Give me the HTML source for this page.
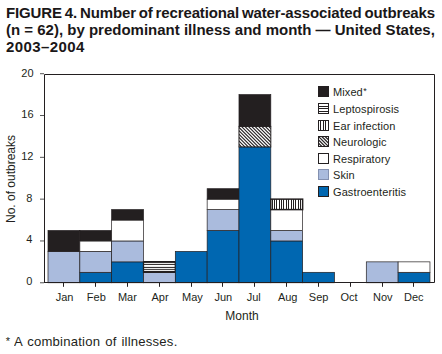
<!DOCTYPE html>
<html><head><meta charset="utf-8"><style>
html,body{margin:0;padding:0;background:#fff;width:442px;height:354px;overflow:hidden;position:relative}
body{font-family:"Liberation Sans",sans-serif;color:#231f20}
.t{position:absolute;left:6px;font-weight:bold;font-size:15px;line-height:15px;white-space:nowrap;color:#1a1718}
svg{position:absolute;left:0;top:0}
.yl{position:absolute;font-size:11px;line-height:14px;white-space:nowrap}
.xl{position:absolute;top:290px;width:40px;text-align:center;font-size:11px;line-height:14px}
.lg{position:absolute;left:333px;font-size:11px;line-height:14px;white-space:nowrap;letter-spacing:0.1px}
.yt{position:absolute;left:11px;top:179px;font-size:12px;line-height:14px;white-space:nowrap;transform:translate(-50%,-50%) rotate(-90deg)}
.mo{position:absolute;left:212px;top:308.8px;width:60px;text-align:center;font-size:12px;line-height:14px}
.fn{position:absolute;left:13.8px;top:335.1px;font-size:12.5px;line-height:14px;white-space:nowrap;letter-spacing:0.2px;word-spacing:1px;transform:scale(1.05,0.95);transform-origin:0 11.3px}
.fa{position:absolute;left:5.8px;top:335.6px;font-size:11px;line-height:11px}
</style></head><body>
<div class="t" style="top:5.1px;letter-spacing:-0.135px;word-spacing:-1.09px">FIGURE 4. Number of recreational water-associated outbreaks</div><div class="t" style="top:22.1px">(n = 62), by predominant illness and month — United States,</div><div class="t" style="top:38.8px;letter-spacing:0.4px">2003–2004</div>
<svg width="442" height="354" viewBox="0 0 442 354">
<defs></defs>
<line x1="40" y1="282.77" x2="44" y2="282.77" stroke="#555" stroke-width="1"/><line x1="40" y1="240.96" x2="44" y2="240.96" stroke="#555" stroke-width="1"/><line x1="40" y1="199.15" x2="44" y2="199.15" stroke="#555" stroke-width="1"/><line x1="40" y1="157.33" x2="44" y2="157.33" stroke="#555" stroke-width="1"/><line x1="40" y1="115.52" x2="44" y2="115.52" stroke="#555" stroke-width="1"/><line x1="40" y1="73.71" x2="44" y2="73.71" stroke="#555" stroke-width="1"/><rect x="63" y="282.5" width="1" height="4.3" fill="#231f20"/><rect x="95" y="282.5" width="1" height="4.3" fill="#231f20"/><rect x="127" y="282.5" width="1" height="4.3" fill="#231f20"/><rect x="159" y="282.5" width="1" height="4.3" fill="#231f20"/><rect x="191" y="282.5" width="1" height="4.3" fill="#231f20"/><rect x="222" y="282.5" width="1" height="4.3" fill="#231f20"/><rect x="254" y="282.5" width="1" height="4.3" fill="#231f20"/><rect x="286" y="282.5" width="1" height="4.3" fill="#231f20"/><rect x="318" y="282.5" width="1" height="4.3" fill="#231f20"/><rect x="350" y="282.5" width="1" height="4.3" fill="#231f20"/><rect x="382" y="282.5" width="1" height="4.3" fill="#231f20"/><rect x="413" y="282.5" width="1" height="4.3" fill="#231f20"/>
<rect x="48.00" y="251.41" width="31.83" height="31.36" fill="#aabbdd"/><rect x="48.00" y="251.41" width="31.83" height="31.36" fill="none" stroke="#231f20" stroke-width="0.7"/><rect x="48.00" y="230.50" width="31.83" height="20.91" fill="#231f20"/><rect x="48.00" y="230.50" width="31.83" height="20.91" fill="none" stroke="#231f20" stroke-width="0.7"/><rect x="79.83" y="272.32" width="31.83" height="10.45" fill="#0067b1"/><rect x="79.83" y="272.32" width="31.83" height="10.45" fill="none" stroke="#231f20" stroke-width="0.7"/><rect x="79.83" y="251.41" width="31.83" height="20.91" fill="#aabbdd"/><rect x="79.83" y="251.41" width="31.83" height="20.91" fill="none" stroke="#231f20" stroke-width="0.7"/><rect x="79.83" y="240.96" width="31.83" height="10.45" fill="#ffffff"/><rect x="79.83" y="240.96" width="31.83" height="10.45" fill="none" stroke="#231f20" stroke-width="0.7"/><rect x="79.83" y="230.50" width="31.83" height="10.45" fill="#231f20"/><rect x="79.83" y="230.50" width="31.83" height="10.45" fill="none" stroke="#231f20" stroke-width="0.7"/><rect x="111.66" y="261.86" width="31.83" height="20.91" fill="#0067b1"/><rect x="111.66" y="261.86" width="31.83" height="20.91" fill="none" stroke="#231f20" stroke-width="0.7"/><rect x="111.66" y="240.96" width="31.83" height="20.91" fill="#aabbdd"/><rect x="111.66" y="240.96" width="31.83" height="20.91" fill="none" stroke="#231f20" stroke-width="0.7"/><rect x="111.66" y="220.05" width="31.83" height="20.91" fill="#ffffff"/><rect x="111.66" y="220.05" width="31.83" height="20.91" fill="none" stroke="#231f20" stroke-width="0.7"/><rect x="111.66" y="209.60" width="31.83" height="10.45" fill="#231f20"/><rect x="111.66" y="209.60" width="31.83" height="10.45" fill="none" stroke="#231f20" stroke-width="0.7"/><rect x="143.49" y="272.32" width="31.83" height="10.45" fill="#aabbdd"/><rect x="143.49" y="272.32" width="31.83" height="10.45" fill="none" stroke="#231f20" stroke-width="0.7"/><rect x="143.49" y="261.86" width="31.83" height="10.45" fill="#ffffff"/><rect x="143.49" y="261" width="31.83" height="1.80" fill="#231f20"/><rect x="143.49" y="263.9" width="31.83" height="1.00" fill="#231f20"/><rect x="143.49" y="266.9" width="31.83" height="1.00" fill="#231f20"/><rect x="143.49" y="268.9" width="31.83" height="0.90" fill="#231f20"/><rect x="143.49" y="270.9" width="31.83" height="1.90" fill="#231f20"/><rect x="143.49" y="261.86" width="31.83" height="10.45" fill="none" stroke="#231f20" stroke-width="1.3"/><rect x="175.32" y="251.41" width="31.83" height="31.36" fill="#0067b1"/><rect x="175.32" y="251.41" width="31.83" height="31.36" fill="none" stroke="#231f20" stroke-width="0.7"/><rect x="207.15" y="230.50" width="31.83" height="52.26" fill="#0067b1"/><rect x="207.15" y="230.50" width="31.83" height="52.26" fill="none" stroke="#231f20" stroke-width="0.7"/><rect x="207.15" y="209.60" width="31.83" height="20.91" fill="#aabbdd"/><rect x="207.15" y="209.60" width="31.83" height="20.91" fill="none" stroke="#231f20" stroke-width="0.7"/><rect x="207.15" y="199.15" width="31.83" height="10.45" fill="#ffffff"/><rect x="207.15" y="199.15" width="31.83" height="10.45" fill="none" stroke="#231f20" stroke-width="0.7"/><rect x="207.15" y="188.69" width="31.83" height="10.45" fill="#231f20"/><rect x="207.15" y="188.69" width="31.83" height="10.45" fill="none" stroke="#231f20" stroke-width="0.7"/><rect x="238.98" y="146.88" width="31.83" height="135.89" fill="#0067b1"/><rect x="238.98" y="146.88" width="31.83" height="135.89" fill="none" stroke="#231f20" stroke-width="0.7"/><rect x="238.98" y="126.38" width="31.83" height="20.51" fill="#ffffff"/><clipPath id="cn"><rect x="238.98" y="126.38" width="31.83" height="20.51"/></clipPath><g clip-path="url(#cn)"><line x1="197.18" y1="126.38" x2="217.69" y2="146.88" stroke="#231f20" stroke-width="1.1"/><line x1="200.58" y1="126.38" x2="221.09" y2="146.88" stroke="#231f20" stroke-width="1.1"/><line x1="203.98" y1="126.38" x2="224.49" y2="146.88" stroke="#231f20" stroke-width="1.1"/><line x1="207.38" y1="126.38" x2="227.89" y2="146.88" stroke="#231f20" stroke-width="1.1"/><line x1="210.78" y1="126.38" x2="231.29" y2="146.88" stroke="#231f20" stroke-width="1.1"/><line x1="214.18" y1="126.38" x2="234.69" y2="146.88" stroke="#231f20" stroke-width="1.1"/><line x1="217.58" y1="126.38" x2="238.09" y2="146.88" stroke="#231f20" stroke-width="1.1"/><line x1="220.98" y1="126.38" x2="241.49" y2="146.88" stroke="#231f20" stroke-width="1.1"/><line x1="224.38" y1="126.38" x2="244.89" y2="146.88" stroke="#231f20" stroke-width="1.1"/><line x1="227.78" y1="126.38" x2="248.29" y2="146.88" stroke="#231f20" stroke-width="1.1"/><line x1="231.18" y1="126.38" x2="251.69" y2="146.88" stroke="#231f20" stroke-width="1.1"/><line x1="234.58" y1="126.38" x2="255.09" y2="146.88" stroke="#231f20" stroke-width="1.1"/><line x1="237.98" y1="126.38" x2="258.49" y2="146.88" stroke="#231f20" stroke-width="1.1"/><line x1="241.38" y1="126.38" x2="261.89" y2="146.88" stroke="#231f20" stroke-width="1.1"/><line x1="244.78" y1="126.38" x2="265.29" y2="146.88" stroke="#231f20" stroke-width="1.1"/><line x1="248.18" y1="126.38" x2="268.69" y2="146.88" stroke="#231f20" stroke-width="1.1"/><line x1="251.58" y1="126.38" x2="272.09" y2="146.88" stroke="#231f20" stroke-width="1.1"/><line x1="254.98" y1="126.38" x2="275.49" y2="146.88" stroke="#231f20" stroke-width="1.1"/><line x1="258.38" y1="126.38" x2="278.89" y2="146.88" stroke="#231f20" stroke-width="1.1"/><line x1="261.78" y1="126.38" x2="282.29" y2="146.88" stroke="#231f20" stroke-width="1.1"/><line x1="265.18" y1="126.38" x2="285.69" y2="146.88" stroke="#231f20" stroke-width="1.1"/><line x1="268.58" y1="126.38" x2="289.09" y2="146.88" stroke="#231f20" stroke-width="1.1"/></g><rect x="238.98" y="126.38" width="31.83" height="20.51" fill="none" stroke="#231f20" stroke-width="1.0"/><rect x="238.98" y="94.62" width="31.83" height="31.76" fill="#231f20"/><rect x="238.98" y="94.62" width="31.83" height="31.76" fill="none" stroke="#231f20" stroke-width="0.7"/><rect x="270.81" y="240.96" width="31.83" height="41.81" fill="#0067b1"/><rect x="270.81" y="240.96" width="31.83" height="41.81" fill="none" stroke="#231f20" stroke-width="0.7"/><rect x="270.81" y="230.50" width="31.83" height="10.45" fill="#aabbdd"/><rect x="270.81" y="230.50" width="31.83" height="10.45" fill="none" stroke="#231f20" stroke-width="0.7"/><rect x="270.81" y="209.60" width="31.83" height="20.91" fill="#ffffff"/><rect x="270.81" y="209.60" width="31.83" height="20.91" fill="none" stroke="#231f20" stroke-width="0.7"/><rect x="270.81" y="199.15" width="31.83" height="10.45" fill="#ffffff"/><rect x="272" y="199.15" width="1" height="10.45" fill="#231f20"/><rect x="274" y="199.15" width="1" height="10.45" fill="#231f20"/><rect x="276" y="199.15" width="1" height="10.45" fill="#231f20"/><rect x="279" y="199.15" width="1" height="10.45" fill="#231f20"/><rect x="281" y="199.15" width="1" height="10.45" fill="#231f20"/><rect x="283" y="199.15" width="1" height="10.45" fill="#231f20"/><rect x="286" y="199.15" width="1" height="10.45" fill="#231f20"/><rect x="288" y="199.15" width="1" height="10.45" fill="#231f20"/><rect x="291" y="199.15" width="1" height="10.45" fill="#231f20"/><rect x="293" y="199.15" width="1" height="10.45" fill="#231f20"/><rect x="295" y="199.15" width="1" height="10.45" fill="#231f20"/><rect x="298" y="199.15" width="1" height="10.45" fill="#231f20"/><rect x="300" y="199.15" width="1" height="10.45" fill="#231f20"/><rect x="270.81" y="199.15" width="31.83" height="10.45" fill="none" stroke="#231f20" stroke-width="1.5"/><rect x="302.64" y="272.32" width="31.83" height="10.45" fill="#0067b1"/><rect x="302.64" y="272.32" width="31.83" height="10.45" fill="none" stroke="#231f20" stroke-width="0.7"/><rect x="366.30" y="261.86" width="31.83" height="20.91" fill="#aabbdd"/><rect x="366.30" y="261.86" width="31.83" height="20.91" fill="none" stroke="#231f20" stroke-width="0.7"/><rect x="398.13" y="272.32" width="31.83" height="10.45" fill="#0067b1"/><rect x="398.13" y="272.32" width="31.83" height="10.45" fill="none" stroke="#231f20" stroke-width="0.7"/><rect x="398.13" y="261.86" width="31.83" height="10.45" fill="#ffffff"/><rect x="398.13" y="261.86" width="31.83" height="10.45" fill="none" stroke="#231f20" stroke-width="0.7"/>
<path d="M44.5,282.5 V74.5 H434.5 V282.5 H44" fill="none" stroke="#231f20" stroke-width="1"/>
<rect x="318" y="86" width="11" height="11" fill="#231f20"/><rect x="318" y="103" width="11" height="1" fill="#231f20"/><rect x="318" y="106" width="11" height="1" fill="#231f20"/><rect x="318" y="108" width="11" height="1" fill="#231f20"/><rect x="318" y="111" width="11" height="1" fill="#231f20"/><rect x="318" y="113" width="11" height="1" fill="#231f20"/><rect x="318" y="103" width="1" height="11" fill="#231f20"/><rect x="328" y="103" width="1" height="11" fill="#231f20"/><rect x="318" y="120" width="1" height="11" fill="#231f20"/><rect x="320" y="120" width="1" height="11" fill="#231f20"/><rect x="323" y="120" width="1" height="11" fill="#231f20"/><rect x="325" y="120" width="1" height="11" fill="#231f20"/><rect x="328" y="120" width="1" height="11" fill="#231f20"/><rect x="318" y="120" width="11" height="1" fill="#231f20"/><rect x="318" y="130" width="11" height="1" fill="#231f20"/><clipPath id="cl"><rect x="318" y="136" width="11" height="11"/></clipPath><g clip-path="url(#cl)"><line x1="304.80" y1="136" x2="315.80" y2="147" stroke="#231f20" stroke-width="1.2"/><line x1="308.10" y1="136" x2="319.10" y2="147" stroke="#231f20" stroke-width="1.2"/><line x1="311.40" y1="136" x2="322.40" y2="147" stroke="#231f20" stroke-width="1.2"/><line x1="314.70" y1="136" x2="325.70" y2="147" stroke="#231f20" stroke-width="1.2"/><line x1="318.00" y1="136" x2="329.00" y2="147" stroke="#231f20" stroke-width="1.2"/><line x1="321.30" y1="136" x2="332.30" y2="147" stroke="#231f20" stroke-width="1.2"/><line x1="324.60" y1="136" x2="335.60" y2="147" stroke="#231f20" stroke-width="1.2"/><line x1="327.90" y1="136" x2="338.90" y2="147" stroke="#231f20" stroke-width="1.2"/></g><rect x="318.5" y="136.5" width="10" height="10" fill="none" stroke="#231f20" stroke-width="1"/><rect x="318.5" y="153.5" width="10" height="10" fill="#fff" stroke="#231f20" stroke-width="1"/><rect x="318.5" y="169.5" width="10" height="10" fill="#aabbdd" stroke="#8390b0" stroke-width="1"/><rect x="318.5" y="186.5" width="10" height="10" fill="#0067b1" stroke="#231f20" stroke-width="1"/>
</svg>
<div class="yl" style="top:274.0px;left:26.3px">0</div><div class="yl" style="top:232.3px;left:26.3px">4</div><div class="yl" style="top:190.6px;left:26.3px">8</div><div class="yl" style="top:149.0px;left:21.2px">12</div><div class="yl" style="top:107.3px;left:21.3px">16</div><div class="yl" style="top:65.6px;left:21.3px">20</div>
<div class="xl" style="left:44.5px">Jan</div><div class="xl" style="left:76.3px">Feb</div><div class="xl" style="left:107.4px">Mar</div><div class="xl" style="left:140.0px">Apr</div><div class="xl" style="left:172.4px">May</div><div class="xl" style="left:203.3px">Jun</div><div class="xl" style="left:233.7px">Jul</div><div class="xl" style="left:267.7px">Aug</div><div class="xl" style="left:298.6px">Sep</div><div class="xl" style="left:329.0px">Oct</div><div class="xl" style="left:362.8px">Nov</div><div class="xl" style="left:393.8px">Dec</div>
<div class="lg" style="top:85.0px">Mixed<span style="font-size:9px;position:relative;top:-2.5px;margin-left:0.5px">*</span></div><div class="lg" style="top:102.0px">Leptospirosis</div><div class="lg" style="top:119.0px">Ear infection</div><div class="lg" style="top:135.0px">Neurologic</div><div class="lg" style="top:152.0px">Respiratory</div><div class="lg" style="top:168.0px">Skin</div><div class="lg" style="top:185.0px">Gastroenteritis</div>
<div class="yt">No. of outbreaks</div>
<div class="mo">Month</div>
<div class="fa">*</div><div class="fn">A combination of illnesses.</div>
</body></html>
